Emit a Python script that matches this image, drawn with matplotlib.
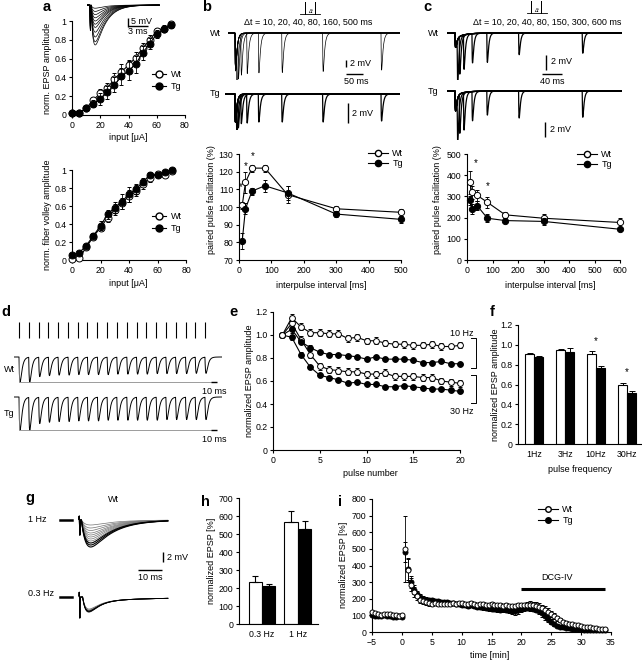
import matplotlib
matplotlib.use('Agg')
import matplotlib.pyplot as plt
from matplotlib.lines import Line2D
import numpy as np

plt.rcParams['font.family'] = ['Liberation Sans', 'DejaVu Sans']
plt.rcParams['font.size'] = 6.3
plt.rcParams['axes.linewidth'] = 0.8

###################################################
# DATA
###################################################
# a: input-output curves
a_input = [0, 5, 10, 15, 20, 25, 30, 35, 40, 45, 50, 55, 60, 65, 70]
a_epsp_wt = [0.02, 0.02, 0.07, 0.16, 0.23, 0.29, 0.38, 0.46, 0.53, 0.61, 0.71, 0.80, 0.89, 0.92, 0.97]
a_epsp_wt_err = [0.01, 0.01, 0.02, 0.03, 0.05, 0.05, 0.07, 0.08, 0.06, 0.06, 0.06, 0.05, 0.04, 0.04, 0.03]
a_epsp_tg = [0.02, 0.02, 0.07, 0.12, 0.17, 0.24, 0.32, 0.41, 0.47, 0.54, 0.66, 0.76, 0.86, 0.91, 0.96]
a_epsp_tg_err = [0.01, 0.01, 0.02, 0.04, 0.06, 0.07, 0.08, 0.09, 0.10, 0.09, 0.07, 0.06, 0.04, 0.03, 0.03]
a_fv_wt = [0.01, 0.02, 0.14, 0.26, 0.36, 0.47, 0.56, 0.63, 0.71, 0.77, 0.84, 0.91, 0.96, 0.95, 0.99]
a_fv_wt_err = [0.01, 0.01, 0.02, 0.03, 0.04, 0.05, 0.06, 0.06, 0.07, 0.06, 0.05, 0.04, 0.03, 0.03, 0.02]
a_fv_tg = [0.055, 0.08, 0.16, 0.27, 0.38, 0.51, 0.58, 0.65, 0.73, 0.79, 0.87, 0.95, 0.95, 0.98, 1.0]
a_fv_tg_err = [0.01, 0.01, 0.02, 0.03, 0.05, 0.05, 0.06, 0.08, 0.08, 0.06, 0.04, 0.03, 0.03, 0.02, 0.02]
a_trace_amp = [2, 4, 6, 8, 10, 12, 14, 17, 20, 23, 25]  # mV, inset sweeps

# b: paired pulse, short intervals
b_interval = [10, 20, 40, 80, 150, 300, 500]
b_wt = [101, 114, 122, 122, 107, 99, 97]
b_wt_err = [2, 6, 2, 2, 5, 1.5, 2]
b_tg = [81, 99, 109, 112, 108, 96, 93]
b_tg_err = [4.5, 3, 2, 3.5, 4, 1.5, 2]
b_trace_dt = [5, 10, 20, 40, 80, 160, 300, 500]
b_trace_wt_amp = [11.0, 11.3, 11.8, 11.6, 11.4, 11.3, 11.0, 10.6]
b_trace_tg_amp = [2.9, 2.9, 2.9, 2.9, 2.8, 2.8, 2.8, 2.7]

# c: paired pulse, long intervals
c_interval = [10, 20, 40, 80, 150, 300, 600]
c_wt = [366, 320, 305, 272, 213, 197, 177]
c_wt_err = [55, 30, 25, 25, 15, 20, 20]
c_tg = [281, 240, 256, 197, 186, 182, 145]
c_tg_err = [20, 25, 20, 20, 10, 15, 10]
c_trace_dt = [10, 20, 40, 80, 150, 300, 600]
c_trace_wt_amp = [5.6, 5.0, 4.6, 3.9, 3.9, 2.9, 2.7]
c_trace_tg_amp = [5.6, 5.2, 5.0, 3.9, 3.2, 3.6, 3.5]

# d: 30 Hz trains
d_pulse_ms = [0, 33, 67, 100, 133, 167, 200, 233, 267, 300, 333, 367, 400, 433, 467, 500, 533, 567, 600, 633]
d_wt_amp = [1.0, 1.0, 0.78, 0.74, 0.72, 0.72, 0.70, 0.70, 0.70, 0.70, 0.68, 0.68, 0.68, 0.68, 0.66, 0.66, 0.66, 0.66, 0.65, 0.65]
d_tg_amp = [1.0, 1.0, 0.80, 0.76, 0.74, 0.74, 0.72, 0.72, 0.72, 0.70, 0.70, 0.70, 0.70, 0.70, 0.70, 0.68, 0.68, 0.68, 0.68, 0.68]

# e: normalized EPSP during trains
e_pulse = [1, 2, 3, 4, 5, 6, 7, 8, 9, 10, 11, 12, 13, 14, 15, 16, 17, 18, 19, 20]
e_wt10 = [1.00, 1.15, 1.07, 1.02, 1.02, 1.01, 1.01, 0.97, 0.98, 0.95, 0.95, 0.93, 0.92, 0.92, 0.91, 0.91, 0.92, 0.90, 0.90, 0.91]
e_wt10_err = [0.0, 0.03, 0.03, 0.03, 0.03, 0.03, 0.03, 0.03, 0.03, 0.025, 0.03, 0.03, 0.025, 0.03, 0.03, 0.025, 0.03, 0.03, 0.025, 0.025]
e_tg10 = [1.00, 1.05, 0.94, 0.89, 0.85, 0.83, 0.83, 0.82, 0.81, 0.79, 0.81, 0.79, 0.79, 0.79, 0.78, 0.76, 0.76, 0.77, 0.75, 0.75]
e_tg10_err = [0.0, 0.03, 0.02, 0.02, 0.015, 0.015, 0.015, 0.015, 0.015, 0.015, 0.015, 0.015, 0.015, 0.015, 0.015, 0.015, 0.015, 0.015, 0.015, 0.015]
e_wt30 = [1.00, 1.10, 0.96, 0.83, 0.73, 0.70, 0.69, 0.68, 0.68, 0.66, 0.66, 0.67, 0.64, 0.64, 0.64, 0.63, 0.63, 0.60, 0.59, 0.58]
e_wt30_err = [0.0, 0.03, 0.03, 0.03, 0.03, 0.03, 0.03, 0.03, 0.03, 0.03, 0.03, 0.03, 0.03, 0.03, 0.03, 0.03, 0.03, 0.03, 0.03, 0.03]
e_tg30 = [1.00, 0.98, 0.83, 0.72, 0.65, 0.63, 0.61, 0.58, 0.59, 0.57, 0.57, 0.55, 0.55, 0.56, 0.55, 0.54, 0.53, 0.53, 0.52, 0.51]
e_tg30_err = [0.0, 0.02, 0.02, 0.015, 0.015, 0.015, 0.015, 0.015, 0.015, 0.015, 0.015, 0.015, 0.015, 0.015, 0.015, 0.015, 0.015, 0.015, 0.015, 0.015]

# f: last-pulse amplitude vs frequency
f_freq = ['1Hz', '3Hz', '10Hz', '30Hz']
f_wt = [0.91, 0.945, 0.905, 0.59]
f_wt_err = [0.01, 0.008, 0.035, 0.03]
f_tg = [0.875, 0.93, 0.765, 0.51]
f_tg_err = [0.01, 0.035, 0.025, 0.025]

# g: frequency facilitation traces
g_1hz_amp = [1.0, 1.6, 2.1, 2.6, 3.0, 3.4, 3.8, 4.2, 4.6, 5.0, 5.4]
g_03hz_amp = [2.0, 2.2, 2.3, 2.4, 2.5, 2.6]

# h: frequency facilitation
h_freq = ['0.3 Hz', '1 Hz']
h_wt = [235, 565]
h_wt_err = [30, 65]
h_tg = [210, 530]
h_tg_err = [10, 45]

# i: time course with DCG-IV
i_time_pre = [-5.0, -4.5, -4.0, -3.5, -3.0, -2.5, -2.0, -1.5, -1.0, -0.5, 0.0]
i_time_post = [0.5, 1.0, 1.5, 2.0, 2.5, 3.0, 3.5, 4.0, 4.5, 5.0,
               5.5, 6.0, 6.5, 7.0, 7.5, 8.0, 8.5, 9.0, 9.5, 10.0,
               10.5, 11.0, 11.5, 12.0, 12.5, 13.0, 13.5, 14.0, 14.5, 15.0,
               15.5, 16.0, 16.5, 17.0, 17.5, 18.0, 18.5, 19.0, 19.5, 20.0,
               20.5, 21.0, 21.5, 22.0, 22.5, 23.0, 23.5, 24.0, 24.5, 25.0,
               25.5, 26.0, 26.5, 27.0, 27.5, 28.0, 28.5, 29.0, 29.5, 30.0,
               30.5, 31.0, 31.5, 32.0, 32.5, 33.0, 33.5, 34.0]
i_wt_pre = [118, 112, 106, 104, 108, 110, 106, 104, 100, 98, 100]
i_wt_pre_err = [10, 8, 8, 6, 8, 6, 6, 8, 6, 8, 6]
i_tg_pre = [100, 96, 95, 98, 100, 97, 96, 92, 90, 94, 92]
i_tg_pre_err = [6, 6, 5, 6, 5, 6, 5, 6, 5, 6, 5]
i_wt_post = [500, 370, 285, 240, 215, 195, 185, 178, 172, 170,
             172, 168, 170, 166, 170, 168, 172, 170, 175, 172,
             170, 168, 172, 168, 165, 168, 166, 162, 165, 168,
             165, 162, 160, 158, 160, 156, 158, 155, 160, 162,
             160, 163, 165, 160, 158, 152, 145, 135, 122, 108,
             95, 82, 72, 62, 56, 50, 46, 42, 40, 36,
             33, 30, 28, 25, 22, 20, 18, 18]
i_wt_post_err = [200, 70, 40, 30, 22, 18, 15, 14, 13, 12,
                 12, 11, 12, 12, 13, 12, 11, 12, 13, 12,
                 12, 11, 12, 12, 11, 12, 12, 11, 12, 12,
                 12, 13, 12, 12, 13, 14, 13, 15, 14, 15,
                 16, 18, 20, 22, 24, 22, 20, 20, 22, 20,
                 18, 16, 14, 12, 11, 10, 10, 9, 9, 8,
                 8, 8, 8, 7, 7, 7, 6, 6]
i_tg_post = [480, 380, 300, 255, 228, 212, 200, 195, 192, 190,
             188, 185, 182, 180, 178, 175, 172, 170, 168, 165,
             160, 158, 160, 155, 152, 150, 148, 145, 142, 140,
             140, 138, 135, 138, 135, 132, 128, 125, 130, 140,
             142, 145, 143, 140, 135, 125, 112, 95, 78, 62,
             48, 38, 32, 28, 25, 22, 20, 18, 18, 16,
             15, 14, 13, 12, 12, 11, 10, 10]
i_tg_post_err = [60, 65, 35, 25, 18, 15, 14, 13, 12, 12,
                 12, 12, 11, 12, 12, 11, 12, 12, 12, 12,
                 12, 12, 12, 12, 13, 12, 13, 14, 14, 15,
                 15, 16, 15, 16, 17, 18, 20, 22, 20, 18,
                 16, 15, 15, 15, 16, 18, 20, 20, 18, 15,
                 12, 10, 8, 8, 7, 7, 6, 6, 6, 6,
                 5, 5, 5, 5, 5, 5, 5, 5]
i_dcg_start, i_dcg_end = 20, 34


###################################################
# LAYOUT HELPERS (pixel boxes: left, top, right, bottom)
###################################################
W, H = 642, 661
fig = plt.figure(figsize=(W / 100, H / 100), dpi=100)
canvas = fig.add_axes([0, 0, 1, 1])
canvas.set_xlim(0, W)
canvas.set_ylim(H, 0)
canvas.axis('off')
canvas.set_zorder(10)


def panel(l, t, r, b, frame=True):
    ax = fig.add_axes([l / W, 1 - b / H, (r - l) / W, (b - t) / H])
    ax.patch.set_alpha(0)
    if frame:
        ax.spines[['top', 'right']].set_visible(False)
        ax.tick_params(direction='out', length=2.5, width=0.8, pad=1.5, labelsize=6.3)
    else:
        ax.axis('off')
    return ax


def txt(x, y, s, **kw):
    kw.setdefault('ha', 'center')
    kw.setdefault('va', 'center')
    kw.setdefault('fontsize', 6.5)
    canvas.text(x, y, s, **kw)


def letter(x, y, s):
    txt(x, y, s, fontsize=10.5, fontweight='bold')


def bar(x0, y0, x1, y1, lw=1.0):
    canvas.plot([x0, x1], [y0, y1], color='k', lw=lw, solid_capstyle='butt')


def legend_at(ax, x_left, y_top, hl, ms, spacing=0.35):
    handles = [Line2D([], [], color='k', lw=0.8, marker='o', mfc='white', mec='k', ms=ms),
               Line2D([], [], color='k', lw=0.8, marker='o', mfc='k', mec='k', ms=ms)]
    ax.legend(handles, ['Wt', 'Tg'], loc='upper left', bbox_to_anchor=(x_left / W, 1 - y_top / H),
              bbox_transform=fig.transFigure, frameon=False, borderpad=0, borderaxespad=0,
              handlelength=hl, handletextpad=0.5, labelspacing=spacing, fontsize=6.5)


def psp(t, tau_rise, tau_decay):
    t = np.asarray(t, dtype=float)
    tp = np.clip(t, 0, None)
    s = np.exp(-tp / tau_decay) - np.exp(-tp / tau_rise)
    t_peak = tau_rise * tau_decay / (tau_decay - tau_rise) * np.log(tau_decay / tau_rise)
    peak = np.exp(-t_peak / tau_decay) - np.exp(-t_peak / tau_rise)
    return np.where(t > 0, s / peak, 0.0)


def errline(ax, x, y, err, filled, ms, lw=0.8, line=True, z=3):
    ax.errorbar(x, y, yerr=err, fmt='-o' if line else 'o', color='k', mfc='k' if filled else 'white',
                mec='k', ms=ms, lw=lw, mew=0.7, elinewidth=0.6, capsize=1.5, capthick=0.6,
                clip_on=False, zorder=z)


###################################################
# a
###################################################
letter(47, 7, 'a')
ax = panel(72, 21, 185, 115)
errline(ax, a_input, a_epsp_wt, a_epsp_wt_err, False, 5)
errline(ax, a_input, a_epsp_tg, a_epsp_tg_err, True, 5, z=4)
ax.set_xlim(0, 80)
ax.set_ylim(0, 1)
ax.set_xticks([0, 20, 40, 60, 80])
ax.set_yticks([0, 0.2, 0.4, 0.6, 0.8, 1.0])
ax.set_yticklabels(['0', '0.2', '0.4', '0.6', '0.8', '1'])
legend_at(ax, 152, 70, 1.6, 5)
txt(48, 68, 'norm. EPSP amplitude', rotation=90)
txt(128, 137, 'input [\u03bcA]')

ax = panel(87, 2, 160, 48, frame=False)
t = np.linspace(-0.5, 11, 1500)
for amp in a_trace_amp:
    art = -16 * np.exp(-((t - 0.05) / 0.04) ** 2)
    ax.plot(t, -amp * psp(t - 0.15, 0.35, 1.6) + art, color='k', lw=0.5)
ax.set_xlim(-0.48, 11.1)
ax.set_ylim(-26.9, 1.9)
bar(128, 18, 128, 26.5)
bar(127.5, 26, 148, 26)
txt(131, 21.5, '5 mV', ha='left')
txt(138, 32, '3 ms')

ax = panel(72, 170, 186, 260)
errline(ax, a_input, a_fv_wt, a_fv_wt_err, False, 5)
errline(ax, a_input, a_fv_tg, a_fv_tg_err, True, 5, z=4)
ax.set_xlim(0, 80)
ax.set_ylim(0, 1)
ax.set_xticks([0, 20, 40, 60, 80])
ax.set_yticks([0, 0.2, 0.4, 0.6, 0.8, 1.0])
ax.set_yticklabels(['0', '0.2', '0.4', '0.6', '0.8', '1'])
legend_at(ax, 152, 212, 1.6, 5)
txt(48, 215, 'norm. fiber volley amplitude', rotation=90)
txt(128, 284, 'input [\u03bcA]')

###################################################
# b
###################################################
letter(207, 7, 'b')
canvas.plot([300, 305, 305, 305, 315, 315, 315, 320], [14, 14, 2, 14, 14, 2, 14, 14], color='k', lw=0.6)
txt(310, 11.5, '\u0394t', fontsize=3.5, style='italic')
txt(308, 22, '\u0394t = 10, 20, 40, 80, 160, 500 ms')
txt(215, 33, 'Wt')
txt(215, 94, 'Tg')

ax = panel(228, 20, 400, 80, frame=False)
t = np.linspace(-24, 565, 4000)
for dt, amp in zip(b_trace_dt, b_trace_wt_amp):
    ax.plot(t, -10.8 * psp(t, 1.0, 5.0) - amp * psp(t - dt, 1.0, 5.0), color='k', lw=0.5)
ax.set_xlim(-24, 565)
ax.set_ylim(-13.43, 3.71)
bar(346, 60, 346, 67)
txt(350, 64, '2 mV', ha='left')
bar(346, 74, 363, 74)
txt(356, 81, '50 ms')

ax = panel(225, 80, 400, 130, frame=False)
t = np.linspace(-34, 565, 4000)
for dt, amp in zip(b_trace_dt, b_trace_tg_amp):
    ax.plot(t, -2.8 * psp(t, 1.0, 5.0) - amp * psp(t - dt, 1.0, 5.0), color='k', lw=0.9)
ax.set_xlim(-34, 565)
ax.set_ylim(-3.6, 1.4)
bar(348, 103, 348, 123)
txt(352, 113, '2 mV', ha='left')

ax = panel(239, 154, 401, 260)
errline(ax, b_interval, b_wt, b_wt_err, False, 4.5)
errline(ax, b_interval, b_tg, b_tg_err, True, 4.5, z=4)
ax.set_xlim(0, 500)
ax.set_ylim(70, 130)
ax.set_xticks([0, 100, 200, 300, 400, 500])
ax.set_yticks([70, 80, 90, 100, 110, 120, 130])
for sx, sy in [(43, 129), (20, 123), (5, 111)]:
    ax.text(sx, sy, '*', ha='center', va='center', fontsize=7)
legend_at(ax, 368, 149, 2.2, 4.5, spacing=0.15)
txt(211, 200, 'paired pulse facilitation (%)', rotation=90)
txt(321, 285, 'interpulse interval [ms]')

###################################################
# c
###################################################
letter(427, 7, 'c')
canvas.plot([527, 531, 531, 531, 541, 541, 541, 547], [13, 13, 1, 13, 13, 1, 13, 13], color='k', lw=0.6)
txt(536, 10.5, '\u0394t', fontsize=3.5, style='italic')
txt(547, 22, '\u0394t = 10, 20, 40, 80, 150, 300, 600 ms')
txt(433, 33, 'Wt')
txt(433, 91, 'Tg')

ax = panel(447, 20, 622, 80, frame=False)
t = np.linspace(-38, 788, 5000)
for dt, amp in zip(c_trace_dt, c_trace_wt_amp):
    y = -1.6 * psp(t, 1.5, 6.0) - amp * psp(t - dt, 1.5, 6.0) - 0.5 * psp(t, 4.0, 40.0)
    ax.plot(t, y, color='k', lw=0.9)
ax.set_xlim(-37.7, 787.7)
ax.set_ylim(-6.27, 1.73)
bar(546, 55, 546, 70)
txt(551, 62, '2 mV', ha='left')
bar(542, 74, 562, 74)
txt(552, 81, '40 ms')

ax = panel(447, 78, 622, 140, frame=False)
for dt, amp in zip(c_trace_dt, c_trace_tg_amp):
    y = -2.4 * psp(t, 1.5, 6.0) - amp * psp(t - dt, 1.5, 6.0) - 0.4 * psp(t, 4.0, 40.0)
    ax.plot(t, y, color='k', lw=0.9)
ax.set_xlim(-37.7, 787.7)
ax.set_ylim(-6.53, 1.73)
bar(545, 122, 545, 137)
txt(550, 130, '2 mV', ha='left')

ax = panel(467, 154, 620, 260)
errline(ax, c_interval, c_wt, c_wt_err, False, 4.5)
errline(ax, c_interval, c_tg, c_tg_err, True, 4.5, z=4)
ax.set_xlim(0, 600)
ax.set_ylim(0, 500)
ax.set_xticks([0, 100, 200, 300, 400, 500, 600])
ax.set_yticks([0, 100, 200, 300, 400, 500])
for sx, sy in [(33, 456), (83, 349)]:
    ax.text(sx, sy, '*', ha='center', va='center', fontsize=7)
legend_at(ax, 577, 150, 2.2, 4.5, spacing=0.15)
txt(438, 200, 'paired pulse facilitation (%)', rotation=90)
txt(550, 285, 'interpulse interval [ms]')

###################################################
# d
###################################################
letter(6, 312, 'd')
ax = panel(14, 320, 222, 340, frame=False)
ax.vlines(d_pulse_ms, 0.1, 0.9, color='k', lw=0.8)
ax.set_xlim(-17, 691)
ax.set_ylim(0, 1)

for (top, bot, base, depth, amps, lab) in [(350, 386, 357, 25, d_wt_amp, 'Wt'),
                                             (390, 434, 397, 33, d_tg_amp, 'Tg')]:
    ax = panel(14, top, 222, bot, frame=False)
    t = np.linspace(-17, 691, 5000)
    y = np.zeros_like(t)
    for p, amp in zip(d_pulse_ms, amps):
        y = y - amp * psp(t - p, 2.5, 6.0)
    ax.plot(t, y, color='k', lw=0.7)
    ax.plot([d_pulse_ms[0], d_pulse_ms[0], d_pulse_ms[-1] + 20], [0, -1, -1], color='0.55', lw=0.6)
    ax.set_xlim(-17, 691)
    ax.set_ylim(-(bot - base) / depth, (base - top) / depth)
    ybar = base + depth
    bar(211, ybar, 217, ybar)
    txt(214, ybar + 9, '10 ms')
    txt(9, (base + ybar) / 2, lab)

###################################################
# e
###################################################
letter(233, 312, 'e')
ax = panel(273, 312, 460, 450)
errline(ax, e_pulse, e_wt30, e_wt30_err, False, 4.2)
errline(ax, e_pulse, e_tg30, e_tg30_err, True, 4.2, z=4)
errline(ax, e_pulse, e_tg10, e_tg10_err, True, 4.2, z=4)
errline(ax, e_pulse, e_wt10, e_wt10_err, False, 4.2, z=5)
ax.set_xlim(0, 20)
ax.set_ylim(0, 1.2)
ax.set_xticks([0, 5, 10, 15, 20])
ax.set_yticks([0, 0.2, 0.4, 0.6, 0.8, 1.0, 1.2])
ax.set_yticklabels(['0', '0.2', '0.4', '0.6', '0.8', '1.0', '1.2'])
txt(249, 381, 'normalized EPSP amplitude', rotation=90)
txt(370, 473, 'pulse number')
txt(462, 334, '10 Hz')
txt(462, 411, '30 Hz')
canvas.plot([471, 476, 476, 471], [338, 338, 368, 368], color='k', lw=0.7)
canvas.plot([471, 476, 476, 471], [375, 375, 403, 403], color='k', lw=0.7)

###################################################
# f
###################################################
letter(492, 312, 'f')
ax = panel(518, 325, 641, 444)
fx = np.arange(len(f_freq))
fw = 0.29
ekw = dict(lw=0.7, capsize=2, capthick=0.7, ecolor='k')
ax.bar(fx - fw / 2, f_wt, fw, color='white', edgecolor='k', lw=0.8,
       yerr=[np.zeros(len(f_wt)), f_wt_err], error_kw=ekw)
ax.bar(fx + fw / 2, f_tg, fw, color='k', edgecolor='k', lw=0.8,
       yerr=[np.zeros(len(f_tg)), f_tg_err], error_kw=ekw)
ax.text(2, 1.04, '*', ha='center', va='center', fontsize=7)
ax.text(3, 0.73, '*', ha='center', va='center', fontsize=7)
ax.set_xlim(-0.52, 3.45)
ax.set_ylim(0, 1.2)
ax.set_xticks(fx)
ax.set_xticklabels(f_freq)
ax.tick_params(axis='x', length=0, pad=4)
ax.set_yticks([0, 0.2, 0.4, 0.6, 0.8, 1.0, 1.2])
ax.set_yticklabels(['0', '0.2', '0.4', '0.6', '0.8', '1.0', '1.2'])
txt(495, 385, 'normalized EPSP amplitude', rotation=90)
txt(580, 470, 'pulse frequency')

###################################################
# g
###################################################
letter(30, 498, 'g')
txt(113, 500, 'Wt')
txt(28, 519, '1 Hz', ha='left')
txt(28, 594, '0.3 Hz', ha='left')

ax = panel(58, 508, 172, 552, frame=False)
t = np.linspace(0, 37, 3000)
for k, amp in enumerate(g_1hz_amp):
    art = -3.0 * np.exp(-((t - 0.35) / 0.12) ** 2) + 0.8 * np.exp(-((t - 0.1) / 0.08) ** 2)
    shade = '0.45' if k < len(g_1hz_amp) - 3 else 'k'
    ax.plot(t, -amp * psp(t - 1.0, 2.0, 9.0) + art, color=shade, lw=0.5 if k < len(g_1hz_amp) - 3 else 0.8)
ax.plot([-7.9, -2.9], [0, 0], color='k', lw=1.8)
ax.set_xlim(-8.75, 38.75)
ax.set_ylim(-6.4, 2.4)
bar(163, 552, 163, 562)
txt(167, 557, '2 mV', ha='left')
bar(138, 570, 162, 570)
txt(150, 578, '10 ms')

ax = panel(58, 584, 172, 626, frame=False)
for k, amp in enumerate(g_03hz_amp):
    art = -4.2 * np.exp(-((t - 0.35) / 0.12) ** 2) + 1.0 * np.exp(-((t - 0.1) / 0.08) ** 2)
    shade = '0.45' if k < 3 else 'k'
    ax.plot(t, -amp * psp(t - 1.5, 1.5, 4.0) - 0.6 * psp(t - 1.5, 3.0, 30.0) + art, color=shade, lw=0.6)
ax.plot([-7.9, -2.9], [0, 0], color='k', lw=1.8)
ax.set_xlim(-8.75, 38.75)
ax.set_ylim(-5.8, 2.6)

###################################################
# h
###################################################
letter(205, 502, 'h')
ax = panel(239, 498, 318, 624)
hx = np.arange(len(h_freq))
hw = 0.375
ekw = dict(lw=0.8, capsize=2.5, capthick=0.8, ecolor='k')
ax.bar(hx - hw / 2, h_wt, hw, color='white', edgecolor='k', lw=0.8,
       yerr=[np.zeros(len(h_wt)), h_wt_err], error_kw=ekw)
ax.bar(hx + hw / 2, h_tg, hw, color='k', edgecolor='k', lw=0.8,
       yerr=[np.zeros(len(h_tg)), h_tg_err], error_kw=ekw)
ax.set_xlim(-0.64, 1.56)
ax.set_ylim(0, 700)
ax.set_xticks(hx)
ax.set_xticklabels(h_freq)
ax.tick_params(axis='x', length=0, pad=4)
ax.set_yticks([0, 100, 200, 300, 400, 500, 600, 700])
txt(211, 561, 'normalized EPSP [%]', rotation=90)

###################################################
# i
###################################################
letter(340, 502, 'i')
ax = panel(372, 499, 611, 632)
i_time = i_time_pre + i_time_post
errline(ax, i_time, i_tg_pre + i_tg_post, i_tg_pre_err + i_tg_post_err, True, 3.6, lw=0.5, line=False, z=3)
errline(ax, i_time, i_wt_pre + i_wt_post, i_wt_pre_err + i_wt_post_err, False, 3.6, lw=0.5, line=False, z=4)
ax.plot([i_dcg_start, i_dcg_end], [258, 258], color='k', lw=2.2, solid_capstyle='butt')
ax.text(26, 325, 'DCG-IV', ha='center', va='center', fontsize=6.5)
ax.set_xlim(-5, 35)
ax.set_ylim(0, 800)
ax.set_xticks([-5, 0, 5, 10, 15, 20, 25, 30, 35])
ax.set_yticks([0, 100, 200, 300, 400, 500, 600, 700, 800])
legend_at(ax, 538, 505, 2.2, 4, spacing=0.25)
txt(344, 565, 'normalized EPSP [%]', rotation=90)
txt(490, 655, 'time [min]')

fig.savefig('out.png', dpi=100)
